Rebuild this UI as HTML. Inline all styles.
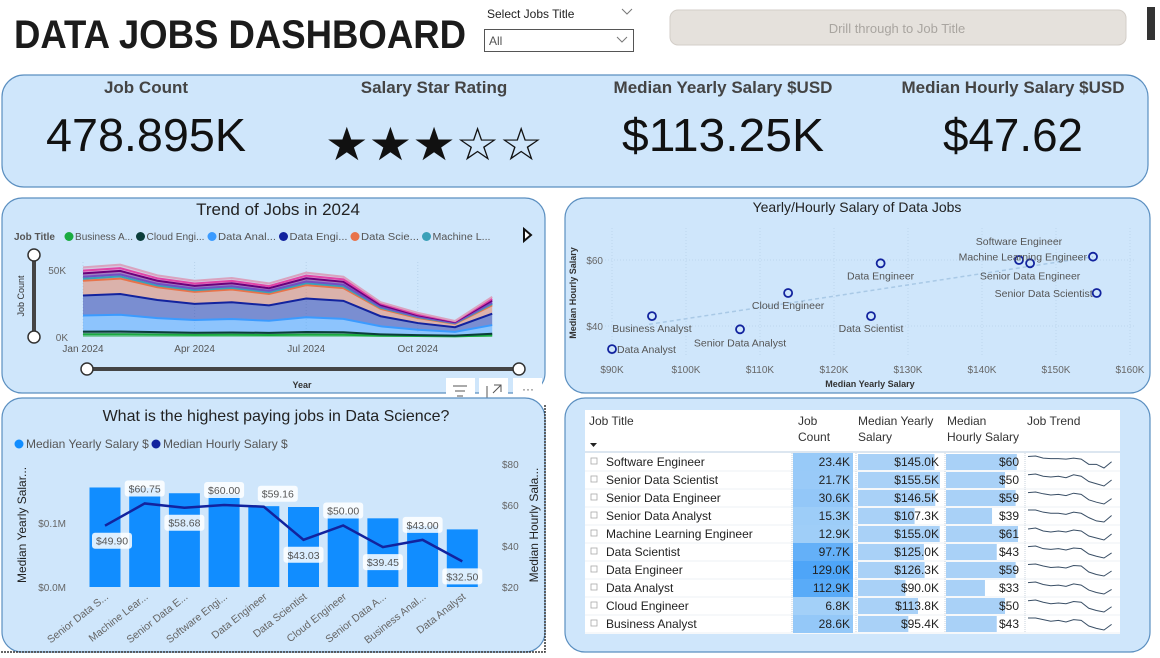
<!DOCTYPE html>
<html><head><meta charset="utf-8"><style>
html,body{margin:0;padding:0;background:#fff;}
svg{display:block;font-family:"Liberation Sans",sans-serif;}
</style></head><body>
<svg id="dash" width="1160" height="658" viewBox="0 0 1160 658">
<text x="14" y="48" font-size="40" font-weight="bold" fill="#1b1b1b" textLength="452" lengthAdjust="spacingAndGlyphs">DATA JOBS DASHBOARD</text>
<g>
<text x="487" y="18" font-size="12" fill="#222">Select Jobs Title</text>
<path d="M622 9 l5 5 l5 -5" fill="none" stroke="#777" stroke-width="1"/>
<rect x="484.5" y="29.5" width="149" height="22" fill="#fff" stroke="#555"/>
<text x="489" y="45" font-size="12" fill="#555">All</text>
<path d="M617 37 l5 5 l5 -5" fill="none" stroke="#777" stroke-width="1"/>
</g>
<rect x="670" y="10" width="456" height="35" rx="8" fill="#e5e1dc" stroke="#d3cec8"/>
<text x="897" y="33" font-size="13" fill="#a9a5a0" text-anchor="middle">Drill through to Job Title</text>
<rect x="1147" y="7" width="8" height="33" fill="#333"/>

<rect x="2" y="75" width="1146" height="112" rx="22" fill="#cfe6fb" stroke="#5b8fc0" stroke-width="1.2"/>
<g font-weight="bold" font-size="17" fill="#444" text-anchor="middle">
<text x="146" y="93">Job Count</text>
<text x="434" y="93">Salary Star Rating</text>
<text x="723" y="93">Median Yearly Salary $USD</text>
<text x="1013" y="93">Median Hourly Salary $USD</text>
</g>
<g font-size="46" fill="#111" text-anchor="middle">
<text x="146" y="151" textLength="200" lengthAdjust="spacingAndGlyphs">478.895K</text>
<text x="434" y="160" font-size="46" textLength="218" lengthAdjust="spacingAndGlyphs">★★★☆☆</text>
<text x="723" y="151" textLength="202" lengthAdjust="spacingAndGlyphs">$113.25K</text>
<text x="1013" y="151" textLength="140" lengthAdjust="spacingAndGlyphs">$47.62</text>
</g>

<rect x="2" y="198" width="543" height="195" rx="20" fill="#cfe6fb" stroke="#5b8fc0" stroke-width="1.2"/>
<text x="278" y="215" font-size="17" fill="#222" text-anchor="middle">Trend of Jobs in 2024</text>
<text x="14" y="240" font-size="10" font-weight="bold" fill="#555">Job Title</text>
<g id="trendLegend"></g>
<path d="M524 229 l7 6 l-7 6 z" fill="#fff" stroke="#111" stroke-width="2"/>
<g id="trendPlot"></g>
<text x="66" y="274" font-size="10" fill="#666" text-anchor="end">50K</text>
<text x="68" y="341" font-size="10" fill="#666" text-anchor="end">0K</text>
<text x="24" y="296" font-size="9" fill="#333" text-anchor="middle" transform="rotate(-90 24 296)">Job Count</text>
<text x="302" y="388" font-size="9" font-weight="bold" fill="#333" text-anchor="middle">Year</text>
<g>
<line x1="34" y1="255" x2="34" y2="337" stroke="#444" stroke-width="4"/>
<circle cx="34" cy="255" r="6" fill="#fff" stroke="#333" stroke-width="1.5"/>
<circle cx="34" cy="337" r="6" fill="#fff" stroke="#333" stroke-width="1.5"/>
</g>
<g>
<line x1="87" y1="369" x2="519" y2="369" stroke="#444" stroke-width="4"/>
<circle cx="87" cy="369" r="6" fill="#fff" stroke="#333" stroke-width="1.5"/>
<circle cx="519" cy="369" r="6" fill="#fff" stroke="#333" stroke-width="1.5"/>
</g>
<g>
<rect x="446" y="378" width="29" height="27" fill="#fff"/>
<path d="M453 386 h14 M455 391 h10 M457 396 h6" stroke="#555" stroke-width="1"/>
<rect x="479" y="378" width="29" height="27" fill="#fff"/>
<path d="M487 386 v13 h13 M494 385 h7 v7 M501 385 l-8 8" fill="none" stroke="#555" stroke-width="1"/>
<rect x="513" y="378" width="29" height="27" fill="#fff"/>
<text x="528" y="393" font-size="12" fill="#555" text-anchor="middle">···</text>
</g>

<rect x="565" y="198" width="585" height="195" rx="20" fill="#cfe6fb" stroke="#5b8fc0" stroke-width="1.2"/>
<text x="857" y="212" font-size="14" fill="#222" text-anchor="middle">Yearly/Hourly Salary of Data Jobs</text>
<g id="scatter"></g>
<text x="870" y="387" font-size="9" font-weight="bold" fill="#333" text-anchor="middle">Median Yearly Salary</text>
<text x="576" y="293" font-size="9" font-weight="bold" fill="#333" text-anchor="middle" transform="rotate(-90 576 293)">Median Hourly Salary</text>

<rect x="2" y="398" width="543" height="254" rx="20" fill="#cfe6fb" stroke="#5b8fc0" stroke-width="1.2"/>
<path d="M545 405 V652 H0" fill="none" stroke="#333" stroke-width="1.5" stroke-dasharray="2 1"/>
<text x="276" y="421" font-size="16" fill="#222" text-anchor="middle">What is the highest paying jobs in Data Science?</text>
<circle cx="19" cy="444" r="4.5" fill="#118dff"/>
<text x="26" y="448" font-size="12" fill="#555">Median Yearly Salary $</text>
<circle cx="156" cy="444" r="4.5" fill="#12239e"/>
<text x="163" y="448" font-size="12" fill="#555">Median Hourly Salary $</text>
<g id="bars"></g>
<text x="26" y="525" font-size="12" fill="#222" text-anchor="middle" transform="rotate(-90 26 525)">Median Yearly Salar...</text>
<text x="538" y="525" font-size="12" fill="#222" text-anchor="middle" transform="rotate(-90 538 525)">Median Hourly Sala...</text>

<rect x="565" y="398" width="585" height="254" rx="20" fill="#cfe6fb" stroke="#5b8fc0" stroke-width="1.2"/>
<rect x="585" y="410" width="535" height="224" fill="#fff"/>
<g font-size="12" fill="#333">
<text x="589" y="425">Job Title</text>
<path d="M590 443 h7 l-3.5 4 z" fill="#222"/>
<text x="798" y="425">Job</text><text x="798" y="441">Count</text>
<text x="858" y="425">Median Yearly</text><text x="858" y="441">Salary</text>
<text x="947" y="425">Median</text><text x="947" y="441">Hourly Salary</text>
<text x="1027" y="425">Job Trend</text>
<line x1="585" y1="452" x2="1120" y2="452" stroke="#b8cde0" stroke-width="1"/>
</g>
<g id="table"></g>
</svg>
<script>
const months = ["Jan","Feb","Mar","Apr","May","Jun","Jul","Aug","Sep","Oct","Nov","Dec"];
const monthTicks = ["Jan 2024","Apr 2024","Jul 2024","Oct 2024"];
const monthTickIdx = [0,3,6,9];
const seriesNames = ["Business Analyst","Cloud Engineer","Data Analyst","Data Engineer","Data Scientist","Machine Learning Engineer","Senior Data Analyst","Senior Data Engineer","Senior Data Scientist","Software Engineer"];
const legendLabels = ["Business A...","Cloud Engi...","Data Anal...","Data Engi...","Data Scie...","Machine L..."];
const trendBA  = [2,2,1.8,1.6,1.7,1.5,1.8,1.7,1,0.7,0.5,1.2];
const trendCE  = [2,2.1,1.8,1.6,1.7,1.6,1.9,1.8,1,0.7,0.5,1.2];
const trendDA  = [12,12.5,10.5,9.5,10,9,11,10,6,4,2.8,6.5];
const trendDE  = [15,15.5,13.5,12,12.5,11.5,14,13.5,7.5,5,3.5,8.5];
const trendDS  = [11,11.5,9.5,9,9.5,8.5,10,9.5,5.5,3.8,2.5,6.3];
const trendML  = [1.5,1.6,1.3,1.2,1.3,1.2,1.4,1.3,0.8,0.6,0.4,1];
const trendSDA = [1.5,1.5,1.3,1.2,1.2,1.1,1.3,1.2,0.8,0.5,0.4,1];
const trendSDE = [2.5,2.6,2.3,2.1,2.2,2,2.4,2.2,1.3,0.9,0.6,1.5];
const trendSDS = [2,2.1,1.8,1.7,1.8,1.6,2,1.8,1.1,0.8,0.5,1.3];
const trendSWE = [2.5,2.6,2.2,2.1,2.1,2,2.2,2,1,1,0.3,1.5];
const jobs = ["Software Engineer","Senior Data Scientist","Senior Data Engineer","Senior Data Analyst","Machine Learning Engineer","Data Scientist","Data Engineer","Data Analyst","Cloud Engineer","Business Analyst"];
const jobCountK = [23.4,21.7,30.6,15.3,12.9,97.7,129.0,112.9,6.8,28.6];
const yearlyK = [145.0,155.5,146.5,107.3,155.0,125.0,126.3,90.0,113.8,95.4];
const hourly = [60,50,59,39,61,43,59,33,50,43];
const xTicksScatter = ["$90K","$100K","$110K","$120K","$130K","$140K","$150K","$160K"];
const xTickValsScatter = [90,100,110,120,130,140,150,160];
const yTickValsScatter = [40,60];
const barJobs = ["Senior Data S...","Machine Lear...","Senior Data E...","Software Engi...","Data Engineer","Data Scientist","Cloud Engineer","Senior Data A...","Business Anal...","Data Analyst"];
const barYearlyK = [155.5,155.0,146.5,145.0,126.3,125.0,113.8,107.3,95.4,90.0];
const barHourly = [49.90,60.75,58.68,60.00,59.16,43.03,50.00,39.45,43.00,32.50];
const barHourlyLabels = ["$49.90","$60.75","$58.68","$60.00","$59.16","$43.03","$50.00","$39.45","$43.00","$32.50"];
const leftTicks = [0,100];
const leftTickLabels = ["$0.0M","$0.1M"];
const rightTicks = [20,40,60,80];

const NS="http://www.w3.org/2000/svg";
function el(tag,parent){const e=document.createElementNS(NS,tag);parent.appendChild(e);return e;}

const tx=i=>83+i*37.2, ty=v=>337-v*1.34;
const trendSeries=[trendBA,trendCE,trendDA,trendDE,trendDS,trendML,trendSDA,trendSDE,trendSDS,trendSWE];
const trendColors=["#1aab40","#0b3d3a","#3b9bff","#12239e","#e8734a","#3aa0b8","#744ec2","#6b007b","#e044a7","#d9a3bf"];
const tp=document.getElementById("trendPlot");
for(let i=0;i<monthTicks.length;i++){
  const g=el("line",tp);
  
  
  g.setAttribute("x1",tx(monthTickIdx[i]));g.setAttribute("x2",tx(monthTickIdx[i]));g.setAttribute("y1",262);g.setAttribute("y2",337);
  g.setAttribute("stroke","#b8d3ea");g.setAttribute("stroke-dasharray","1 2");
  const t=el("text",tp);
  
  
  t.setAttribute("x",tx(monthTickIdx[i]));t.setAttribute("y",352);t.setAttribute("font-size","10");t.setAttribute("fill","#555");t.setAttribute("text-anchor","middle");
  t.textContent=monthTicks[i];
}
let cum=months.map(()=>0);
const uppers=[];
trendSeries.forEach((s,k)=>{
  const lo=cum.slice(); const hi=cum.map((c,i)=>c+s[i]);
  let d="M"+hi.map((v,i)=>tx(i)+","+ty(v)).join(" L");
  for(let i=months.length-1;i>=0;i--) d+=" L"+tx(i)+","+ty(lo[i]);
  const a=el("path",tp);
  
  
  a.setAttribute("d",d+"Z");a.setAttribute("fill",trendColors[k]);a.setAttribute("fill-opacity","0.45");
  uppers.push(hi); cum=hi;
});
uppers.forEach((hi,k)=>{
  const l=el("polyline",tp);
  
  
  l.setAttribute("points",hi.map((v,i)=>tx(i)+","+ty(v)).join(" "));
  l.setAttribute("fill","none");l.setAttribute("stroke",trendColors[k]);l.setAttribute("stroke-width","2");
});
const tl=document.getElementById("trendLegend");
legendLabels.forEach((lab,k)=>{
  const lx=65+k*71.5;
  const c=el("circle",tl);
  
  
  c.setAttribute("cx",lx+4);c.setAttribute("cy",236.5);c.setAttribute("r",4.5);c.setAttribute("fill",trendColors[k]);
  const t=el("text",tl);
  
  
  t.setAttribute("x",lx+10);t.setAttribute("y",240);t.setAttribute("font-size","10");t.setAttribute("fill","#555");
  t.setAttribute("textLength",58);t.setAttribute("lengthAdjust","spacingAndGlyphs");
  t.textContent=lab;
});

const sx=v=>612+(v-90)*7.4, sy=v=>326-(v-40)*3.3;
const sc=document.getElementById("scatter");
xTickValsScatter.forEach((v,i)=>{
  const g=el("line",sc);
  
  
  g.setAttribute("x1",sx(v));g.setAttribute("x2",sx(v));g.setAttribute("y1",228);g.setAttribute("y2",355);
  g.setAttribute("stroke","#bcd6ec");g.setAttribute("stroke-dasharray","1 2");
  const t=el("text",sc);
  
  
  t.setAttribute("x",sx(v));t.setAttribute("y",373);t.setAttribute("font-size","10");t.setAttribute("fill","#666");t.setAttribute("text-anchor","middle");
  t.textContent=xTicksScatter[i];
});
yTickValsScatter.forEach(v=>{
  const g=el("line",sc);
  
  
  g.setAttribute("x1",605);g.setAttribute("x2",1135);g.setAttribute("y1",sy(v));g.setAttribute("y2",sy(v));
  g.setAttribute("stroke","#bcd6ec");g.setAttribute("stroke-dasharray","1 2");
  const t=el("text",sc);
  
  
  t.setAttribute("x",603);t.setAttribute("y",sy(v)+4);t.setAttribute("font-size","10");t.setAttribute("fill","#666");t.setAttribute("text-anchor","end");
  t.textContent="$"+v;
});
const tr=el("line",sc);


tr.setAttribute("x1",sx(95));tr.setAttribute("y1",sy(40.5));tr.setAttribute("x2",sx(155));tr.setAttribute("y2",sy(61));
tr.setAttribute("stroke","#a9c9e6");tr.setAttribute("stroke-width","1.5");tr.setAttribute("stroke-dasharray","4 3");
const lblPos=[[0,-15,"middle"],[-4,4,"end"],[0,16,"middle"],[0,17,"middle"],[-6,4,"end"],[0,16,"middle"],[0,16,"middle"],[5,4,"start"],[0,16,"middle"],[0,16,"middle"]];
jobs.forEach((j,i)=>{
  const c=el("circle",sc);
  
  
  c.setAttribute("cx",sx(yearlyK[i]));c.setAttribute("cy",sy(hourly[i]));c.setAttribute("r",4);c.setAttribute("fill","none");c.setAttribute("stroke","#12239e");c.setAttribute("stroke-width","1.8");
  const t=el("text",sc);
  
  
  t.setAttribute("x",sx(yearlyK[i])+lblPos[i][0]);t.setAttribute("y",sy(hourly[i])+lblPos[i][1]);
  t.setAttribute("font-size","10.5");t.setAttribute("fill","#555");t.setAttribute("text-anchor",lblPos[i][2]);
  t.textContent=j;
});

const bx=i=>105+i*39.7, byL=v=>587-v*0.64, byR=v=>587-(v-20)*2.05;
const bg=document.getElementById("bars");
leftTicks.forEach((v,i)=>{
  const t=el("text",bg);
  
  
  t.setAttribute("x",66);t.setAttribute("y",byL(v)+4);t.setAttribute("font-size","10");t.setAttribute("fill","#666");t.setAttribute("text-anchor","end");
  t.textContent=leftTickLabels[i];
});
rightTicks.forEach(v=>{
  const t=el("text",bg);
  
  
  t.setAttribute("x",502);t.setAttribute("y",byR(v)+4);t.setAttribute("font-size","10");t.setAttribute("fill","#666");
  t.textContent="$"+v;
});
barJobs.forEach((j,i)=>{
  const r=el("rect",bg);
  
  
  r.setAttribute("x",bx(i)-15.5);r.setAttribute("width",31);r.setAttribute("y",byL(barYearlyK[i]));r.setAttribute("height",587-byL(barYearlyK[i]));r.setAttribute("fill","#118dff");
  const t=el("text",bg);
  
  
  t.setAttribute("x",bx(i)+4);t.setAttribute("y",598);t.setAttribute("font-size","10.5");t.setAttribute("fill","#666");t.setAttribute("text-anchor","end");
  t.setAttribute("transform","rotate(-38 "+(bx(i)+4)+" 598)");
  t.textContent=j;
});
const ln=el("polyline",bg);


ln.setAttribute("points",barHourly.map((v,i)=>bx(i)+","+byR(v)).join(" "));
ln.setAttribute("fill","none");ln.setAttribute("stroke","#12239e");ln.setAttribute("stroke-width","2.5");
const place=[1,-1,1,-1,-1,1,-1,1,-1,1];
barHourly.forEach((v,i)=>{
  const cy=byR(v)+place[i]*15+(i===4?2:0);
  const cx=bx(i)+(i===0?7:i===4?14:0);
  const r=el("rect",bg);
  
  
  r.setAttribute("x",cx-20);r.setAttribute("y",cy-8);r.setAttribute("width",40);r.setAttribute("height",16);r.setAttribute("rx",3);r.setAttribute("fill","#fff");r.setAttribute("fill-opacity","0.85");
  const t=el("text",bg);
  
  
  t.setAttribute("x",cx);t.setAttribute("y",cy+4);t.setAttribute("font-size","10.5");t.setAttribute("fill","#555");t.setAttribute("text-anchor","middle");
  t.textContent=barHourlyLabels[i];
});

const tb=document.getElementById("table");
const rowSeries=[trendSWE,trendSDS,trendSDE,trendSDA,trendML,trendDS,trendDE,trendDA,trendCE,trendBA];
const maxCount=Math.max(...jobCountK);
const maxYearly=Math.max(...yearlyK), maxHourly=Math.max(...hourly);
jobs.forEach((j,i)=>{
  const y0=453+i*18, yc=y0+9;
  const sep=el("line",tb);
  
  
  sep.setAttribute("x1",585);sep.setAttribute("x2",1120);sep.setAttribute("y1",y0+18);sep.setAttribute("y2",y0+18);sep.setAttribute("stroke","#eef1f4");
  const ic=el("rect",tb);
  
  
  ic.setAttribute("x",591);ic.setAttribute("y",yc-4);ic.setAttribute("width",6);ic.setAttribute("height",6);ic.setAttribute("fill","none");ic.setAttribute("stroke","#aaa");ic.setAttribute("stroke-width","0.8");
  const t=el("text",tb);
  
  
  t.setAttribute("x",606);t.setAttribute("y",yc+4);t.setAttribute("font-size","12");t.setAttribute("fill","#222");t.textContent=j;
  const f=jobCountK[i]/maxCount;
  const cr=el("rect",tb);
  
  
  const rr=Math.round(168-f*90), gg=Math.round(210-f*45);
  cr.setAttribute("x",793);cr.setAttribute("y",y0);cr.setAttribute("width",60);cr.setAttribute("height",18);cr.setAttribute("fill","rgb("+rr+","+gg+",248)");
  const ct=el("text",tb);
  
  
  ct.setAttribute("x",850);ct.setAttribute("y",yc+4);ct.setAttribute("font-size","12");ct.setAttribute("fill","#222");ct.setAttribute("text-anchor","end");ct.textContent=jobCountK[i].toFixed(1)+"K";
  const yb=el("rect",tb);
  
  
  yb.setAttribute("x",858);yb.setAttribute("y",y0+1);yb.setAttribute("width",yearlyK[i]/maxYearly*82);yb.setAttribute("height",16);yb.setAttribute("fill","#a9d1f7");
  const yt=el("text",tb);
  
  
  yt.setAttribute("x",939);yt.setAttribute("y",yc+4);yt.setAttribute("font-size","12");yt.setAttribute("fill","#222");yt.setAttribute("text-anchor","end");yt.textContent="$"+yearlyK[i].toFixed(1)+"K";
  const hb=el("rect",tb);
  
  
  hb.setAttribute("x",946);hb.setAttribute("y",y0+1);hb.setAttribute("width",hourly[i]/maxHourly*72);hb.setAttribute("height",16);hb.setAttribute("fill","#a9d1f7");
  const ht=el("text",tb);
  
  
  ht.setAttribute("x",1019);ht.setAttribute("y",yc+4);ht.setAttribute("font-size","12");ht.setAttribute("fill","#222");ht.setAttribute("text-anchor","end");ht.textContent="$"+hourly[i];
  const s=rowSeries[i], mn=Math.min(...s), mx=Math.max(...s);
  const sp=el("polyline",tb);
  
  
  sp.setAttribute("points",s.map((v,k)=>(1028+k*7.6)+","+(y0+15-(v-mn)/(mx-mn)*12)).join(" "));
  sp.setAttribute("fill","none");sp.setAttribute("stroke","#3a4f66");sp.setAttribute("stroke-width","1");
});
[792,856,945,1025].forEach(x=>{
  const d=el("line",tb);
  
  
  d.setAttribute("x1",x);d.setAttribute("x2",x);d.setAttribute("y1",453);d.setAttribute("y2",633);d.setAttribute("stroke","#c8d3de");d.setAttribute("stroke-dasharray","1 1");
});
</script>
</body></html>
